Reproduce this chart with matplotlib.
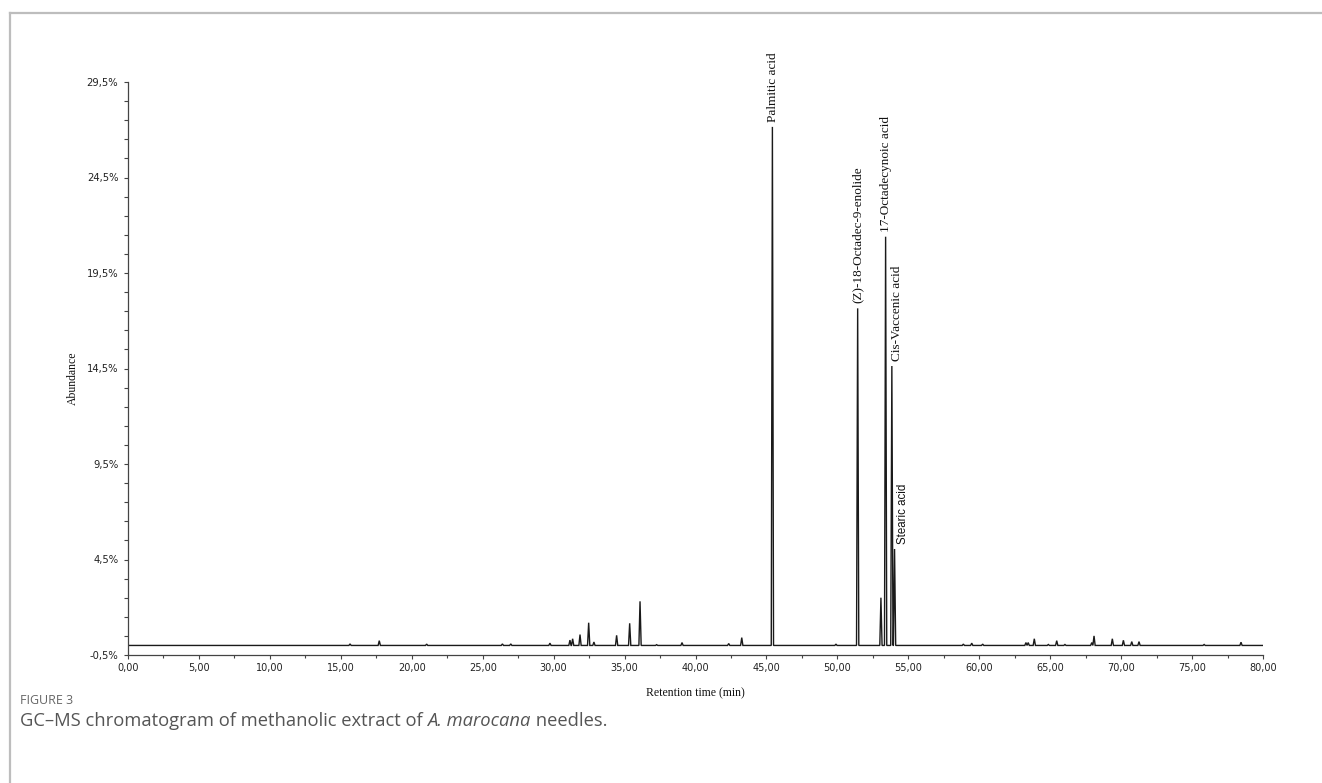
import matplotlib
matplotlib.use("Agg")
import matplotlib.pyplot as plt
from matplotlib.lines import Line2D
from matplotlib.ticker import MultipleLocator, FuncFormatter

# ---- data (retention time in min, abundance in %) ----
retention_times = [15.65, 17.71, 21.05, 26.39, 26.98, 29.74, 31.15, 31.34, 31.86, 32.47,
                   32.84, 34.44, 35.36, 36.09, 37.26, 39.05, 42.34, 43.26, 45.42, 49.90,
                   51.43, 53.07, 53.40, 53.84, 54.03, 58.88, 59.47, 60.24, 63.29, 63.45,
                   63.88, 64.87, 65.46, 66.04, 67.93, 68.09, 69.38, 70.16, 70.75, 71.26,
                   75.85, 78.45]
abundances = [0.08, 0.25, 0.07, 0.08, 0.08, 0.12, 0.28, 0.35, 0.57, 1.19,
              0.18, 0.53, 1.16, 2.31, 0.04, 0.15, 0.10, 0.41, 27.15, 0.07,
              17.65, 2.50, 21.40, 14.63, 5.05, 0.07, 0.12, 0.07, 0.15, 0.15,
              0.35, 0.05, 0.25, 0.05, 0.15, 0.50, 0.35, 0.27, 0.20, 0.20,
              0.05, 0.17]
label_times = [45.42, 51.43, 53.40, 53.84, 54.03]
label_names = ["Palmitic acid", "(Z)-18-Octadec-9-enolide", "17-Octadecynoic acid",
               "Cis-Vaccenic acid", "Stearic acid"]
run_start, run_end = 0.0, 80.0

W, H = 1322, 783
fig = plt.figure(figsize=(W / 100, H / 100), dpi=100)
fig.patch.set_facecolor("white")

# frame around the panel (open on right/bottom as in the crop)
border = "#bdbdbd"
fig.add_artist(Line2D([10 / W, 10 / W], [0, 1 - 13 / H], color=border, lw=1.6,
                      transform=fig.transFigure))
fig.add_artist(Line2D([10 / W, 1], [1 - 13 / H, 1 - 13 / H], color=border, lw=1.6,
                      transform=fig.transFigure))

left, right, top, bottom = 128, 1263, 82, 655
ax = fig.add_axes([left / W, 1 - bottom / H, (right - left) / W, (bottom - top) / H])

# chromatogram trace built from the peak table
half_w = 0.08
xs, ys = [run_start], [0.0]
for t, h in sorted(zip(retention_times, abundances)):
    xs += [t - half_w, t, t + half_w]
    ys += [0.0, h, 0.0]
xs.append(run_end)
ys.append(0.0)
ax.plot(xs, ys, color="#1a1a1a", lw=1.0, solid_joinstyle="miter")

ax.set_xlim(run_start, run_end)
ax.set_ylim(-0.5, 29.5)

for s in ["top", "right"]:
    ax.spines[s].set_visible(False)
for s in ["left", "bottom"]:
    ax.spines[s].set_color("#444444")
    ax.spines[s].set_linewidth(0.9)

ax.set_yticks([-0.5 + 5 * i for i in range(7)])
ax.set_yticks([-0.5 + i for i in range(31)], minor=True)
ax.xaxis.set_major_locator(MultipleLocator(5))
ax.xaxis.set_minor_locator(MultipleLocator(2.5))
ax.yaxis.set_major_formatter(FuncFormatter(lambda v, p: f"{v:.1f}%".replace(".", ",")))
ax.xaxis.set_major_formatter(FuncFormatter(lambda v, p: f"{v:.2f}".replace(".", ",")))

ax.tick_params(axis="both", which="both", direction="out", color="#444444", width=0.8,
               labelcolor="#222222")
ax.tick_params(axis="y", which="major", length=3, pad=4, labelsize=7.2)
ax.tick_params(axis="y", which="minor", length=3)
ax.tick_params(axis="x", which="major", length=3, pad=3, labelsize=7.0)
ax.tick_params(axis="x", which="minor", length=2.5)
for lab in ax.get_xticklabels() + ax.get_yticklabels():
    lab.set_fontfamily("DejaVu Sans")

ax.set_xlabel("Retention time (min)", family="Liberation Serif", fontsize=8.5,
              color="#111111", labelpad=10)
ax.set_ylabel("Abundance", family="Liberation Serif", fontsize=8.5,
              color="#111111")
ax.yaxis.set_label_coords(-0.0435, 0.483)

# peak labels
offsets = {"Cis-Vaccenic acid": 3.6, "Stearic acid": 6.3}
for t, name in zip(label_times, label_names):
    h = abundances[retention_times.index(t)]
    fam = "Liberation Sans" if name == "Stearic acid" else "Liberation Serif"
    fs = 8.3 if name == "Stearic acid" else 9.5
    ax.annotate(name, xy=(t, h), xytext=(offsets.get(name, 0.3), 3.5),
                textcoords="offset points", rotation=90, ha="center", va="bottom",
                family=fam, fontsize=fs, color="#111111", annotation_clip=False)

# caption
fig.text(20 / W, 1 - 700 / H, "FIGURE 3", family="Open Sans", fontsize=9,
         color="#666666", va="center", ha="left")
cap_y = 1 - 721 / H
cap_kw = dict(family="Open Sans", fontsize=13.2, color="#555555", va="center", ha="left")
t1 = fig.text(20 / W, cap_y, "GC\u2013MS chromatogram of methanolic extract of ", **cap_kw)
fig.canvas.draw()
r = fig.canvas.get_renderer()
x1 = t1.get_window_extent(r).x1
t2 = fig.text(x1 / W, cap_y, "A. marocana", style="italic", **cap_kw)
fig.canvas.draw()
x2 = t2.get_window_extent(r).x1
fig.text(x2 / W, cap_y, " needles.", **cap_kw)

fig.savefig("out.png", dpi=100, facecolor="white")
